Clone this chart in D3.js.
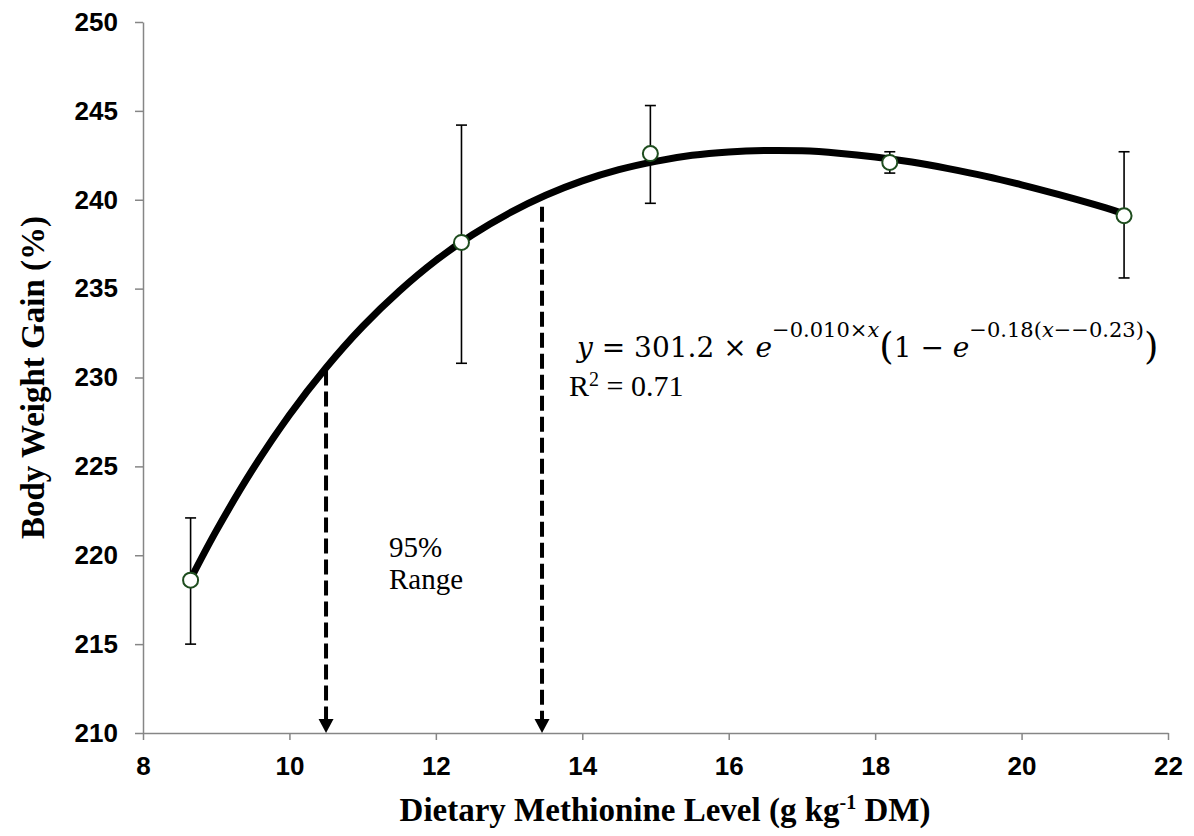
<!DOCTYPE html>
<html lang="en">
  <head>
    <meta charset="UTF-8" />
    <title>Body Weight Gain</title>
    <script src="https://cdn.jsdelivr.net/npm/d3@7"></script>
    <style>
      html,
      body {
        margin: 0;
        padding: 0;
        background: #fff;
      }
    </style>
  </head>
  <body>
    <script>
      // observed means and error bars
      const methionine = [8.65, 12.35, 14.93, 18.2, 21.4];
      const weightGain = [218.6, 237.6, 242.6, 242.1, 239.1];
      const errLow = [215.0, 230.8, 239.8, 241.5, 235.6];
      const errHigh = [222.1, 244.2, 245.3, 242.7, 242.7];

      // fitted curve
      const fitX = [8.65, 9, 9.5, 10, 10.5, 11, 11.5, 12, 12.5, 13, 13.5, 14, 14.5, 15,
        15.5, 16, 16.5, 17, 17.5, 18, 18.5, 19, 19.5, 20, 20.5, 21, 21.35];
      const fitY = [218.66, 221.37, 224.84, 227.89, 230.55, 232.87, 234.86, 236.58, 238.03,
        239.24, 240.25, 241.06, 241.69, 242.16, 242.5, 242.69, 242.77, 242.75, 242.62,
        242.41, 242.12, 241.75, 241.33, 240.84, 240.3, 239.72, 239.28];

      // 95% range markers
      const rangeX = [10.5, 13.45];
      const rangeTop = [230.4, 239.6];

      const xTicks = [8, 10, 12, 14, 16, 18, 20, 22];
      const yTicks = [210, 215, 220, 225, 230, 235, 240, 245, 250];

      const width = 1194,
        height = 836;
      const plot = { left: 143, right: 1168, top: 22, bottom: 733 };

      const svg = d3
        .select('body')
        .append('svg')
        .attr('width', width)
        .attr('height', height);

      const x = d3.scaleLinear().domain([8, 22]).range([plot.left, plot.right]);
      const y = d3.scaleLinear().domain([210, 250]).range([plot.bottom, plot.top]);

      const axisColor = '#868686';

      const xAxis = svg
        .append('g')
        .attr('transform', `translate(0, ${plot.bottom})`)
        .call(d3.axisBottom(x).tickValues(xTicks).tickSize(7).tickPadding(17).tickSizeOuter(0));

      const yAxis = svg
        .append('g')
        .attr('transform', `translate(${plot.left}, 0)`)
        .call(d3.axisLeft(y).tickValues(yTicks).tickSize(8).tickPadding(17).tickSizeOuter(0));

      [xAxis, yAxis].forEach(g => {
        g.select('.domain').attr('stroke', axisColor).attr('stroke-width', 1.5);
        g.selectAll('.tick line').attr('stroke', axisColor).attr('stroke-width', 1.5);
        g.selectAll('.tick text')
          .attr('fill', '#000')
          .style('font-family', '"Liberation Sans", Arial, sans-serif')
          .style('font-weight', 'bold')
          .style('font-size', '26px');
      });

      // fitted curve
      const line = d3
        .line()
        .x(d => x(d[0]))
        .y(d => y(d[1]))
        .curve(d3.curveCatmullRom.alpha(0.5));

      svg
        .append('path')
        .attr('d', line(fitX.map((v, i) => [v, fitY[i]])))
        .attr('fill', 'none')
        .attr('stroke', '#000')
        .attr('stroke-width', 7)
        .attr('stroke-linecap', 'butt');

      // dashed arrows for the 95% range
      rangeX.forEach((v, i) => {
        svg
          .append('line')
          .attr('x1', x(v))
          .attr('x2', x(v))
          .attr('y1', y(rangeTop[i]))
          .attr('y2', y(210) - 13)
          .attr('stroke', '#000')
          .attr('stroke-width', 4)
          .attr('stroke-dasharray', '15,6');

        const tipX = x(v),
          tipY = y(210);
        svg
          .append('path')
          .attr('d', `M${tipX - 7.5},${tipY - 14}L${tipX + 7.5},${tipY - 14}L${tipX},${tipY}Z`)
          .attr('fill', '#000');
      });

      // error bars
      const cap = 5.5;
      methionine.forEach((v, i) => {
        const g = svg.append('g').attr('stroke', '#000').attr('stroke-width', 1.6);
        g.append('line')
          .attr('x1', x(v))
          .attr('x2', x(v))
          .attr('y1', y(errLow[i]))
          .attr('y2', y(errHigh[i]));
        g.append('line')
          .attr('x1', x(v) - cap)
          .attr('x2', x(v) + cap)
          .attr('y1', y(errLow[i]))
          .attr('y2', y(errLow[i]));
        g.append('line')
          .attr('x1', x(v) - cap)
          .attr('x2', x(v) + cap)
          .attr('y1', y(errHigh[i]))
          .attr('y2', y(errHigh[i]));
      });

      // markers
      svg
        .selectAll('circle.pt')
        .data(methionine)
        .join('circle')
        .attr('class', 'pt')
        .attr('cx', d => x(d))
        .attr('cy', (d, i) => y(weightGain[i]))
        .attr('r', 7.5)
        .attr('fill', '#fff')
        .attr('stroke', '#1e4d1e')
        .attr('stroke-width', 2);

      const serif = '"Liberation Serif", "Times New Roman", serif';
      const mathFont = '"DejaVu Serif", serif';

      // equation
      const eq = svg
        .append('text')
        .attr('x', 577)
        .attr('y', 357)
        .style('font-family', mathFont)
        .style('font-size', '28px')
        .attr('fill', '#000');
      eq.append('tspan').style('font-style', 'italic').text('y');
      eq.append('tspan').text(' = 301.2 × ');
      eq.append('tspan').style('font-style', 'italic').text('e');
      eq.append('tspan').attr('dy', -20).style('font-size', '21px').text('−0.010×');
      eq.append('tspan').style('font-size', '21px').style('font-style', 'italic').text('x');
      eq.append('tspan').attr('dy', 22).style('font-size', '37px').text('(');
      eq.append('tspan').attr('dy', -2).text('1 − ');
      eq.append('tspan').style('font-style', 'italic').text('e');
      eq.append('tspan').attr('dy', -20).style('font-size', '21px').text('−0.18(');
      eq.append('tspan').style('font-size', '21px').style('font-style', 'italic').text('x');
      eq.append('tspan').style('font-size', '21px').text('−−0.23)');
      eq.append('tspan').attr('dy', 22).style('font-size', '37px').text(')');

      const r2 = svg
        .append('text')
        .attr('x', 569)
        .attr('y', 396)
        .style('font-family', serif)
        .style('font-size', '30px')
        .attr('fill', '#000');
      r2.append('tspan').text('R');
      r2.append('tspan').attr('dy', -10).style('font-size', '20px').text('2');
      r2.append('tspan').attr('dy', 10).text(' = 0.71');

      // range label
      svg
        .append('text')
        .attr('x', 389)
        .attr('y', 557)
        .style('font-family', serif)
        .style('font-size', '29px')
        .text('95%');
      svg
        .append('text')
        .attr('x', 389)
        .attr('y', 589)
        .style('font-family', serif)
        .style('font-size', '29px')
        .text('Range');

      // axis titles
      const xTitle = svg
        .append('text')
        .attr('x', 665)
        .attr('y', 821)
        .attr('text-anchor', 'middle')
        .style('font-family', serif)
        .style('font-weight', 'bold')
        .style('font-size', '33px');
      xTitle.append('tspan').text('Dietary Methionine Level (g kg');
      xTitle.append('tspan').attr('dy', -12).style('font-size', '20px').text('-1');
      xTitle.append('tspan').attr('dy', 12).text(' DM)');

      svg
        .append('text')
        .attr('transform', `translate(44, ${(plot.top + plot.bottom) / 2}) rotate(-90)`)
        .attr('text-anchor', 'middle')
        .style('font-family', serif)
        .style('font-weight', 'bold')
        .style('font-size', '33px')
        .text('Body Weight Gain (%)');
    </script>
  </body>
</html>
